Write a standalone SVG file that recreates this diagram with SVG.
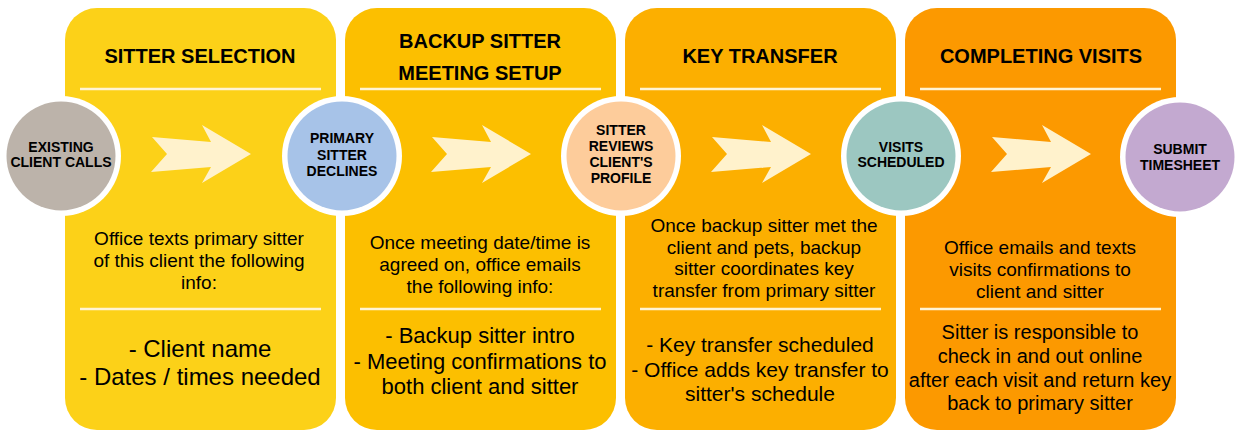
<svg xmlns="http://www.w3.org/2000/svg" width="1241" height="438" viewBox="0 0 1241 438">
<defs>
<style>
.title{font-family:"Liberation Sans",Arial,sans-serif;font-weight:bold;font-size:20px;fill:#000;text-anchor:middle}
.body{font-family:"Liberation Sans",Arial,sans-serif;font-size:19px;fill:#000;text-anchor:middle}
.lbl{font-family:"Liberation Sans",Arial,sans-serif;font-weight:bold;font-size:14px;fill:#000;text-anchor:middle}
.div{stroke:#FFF4D4;stroke-width:2.5}
.ring{fill:#fff}
.arrow{fill:#FFF2CC}
</style>
<path id="arr" d="M152,137 L211,142 L202,125 L251,154 L202,183 L211,167 L151,172 L167,154 Z"/>
</defs>
<rect width="1241" height="438" fill="#fff"/>

<g id="panel-sitter-selection">
<rect x="65" y="8" width="271" height="422" rx="32" fill="#FCD118"/>
<text class="title" x="200" y="63">SITTER SELECTION</text>
<line class="div" x1="80" y1="89" x2="321" y2="89"/>
<text class="body" x="199" y="245">Office texts primary sitter</text>
<text class="body" x="199" y="267">of this client the following</text>
<text class="body" x="199" y="289">info:</text>
<line class="div" x1="80" y1="309" x2="321" y2="309"/>
<text class="body" x="200" y="357" style="font-size:24px">- Client name</text>
<text class="body" x="200" y="385" style="font-size:24px">- Dates / times needed</text>
</g>

<g id="panel-backup-meeting">
<rect x="345" y="8" width="271" height="422" rx="32" fill="#FCBF00"/>
<text class="title" x="480" y="48">BACKUP SITTER</text>
<text class="title" x="480" y="80">MEETING SETUP</text>
<line class="div" x1="360" y1="89" x2="601" y2="89"/>
<text class="body" x="480" y="249">Once meeting date/time is</text>
<text class="body" x="480" y="271">agreed on, office emails</text>
<text class="body" x="480" y="293">the following info:</text>
<line class="div" x1="360" y1="309" x2="601" y2="309"/>
<text class="body" x="480" y="343" style="font-size:22px">- Backup sitter intro</text>
<text class="body" x="480" y="369" style="font-size:22px">- Meeting confirmations to</text>
<text class="body" x="480" y="394" style="font-size:22px">both client and sitter</text>
</g>

<g id="panel-key-transfer">
<rect x="625" y="8" width="271" height="422" rx="32" fill="#FCAF00"/>
<text class="title" x="760" y="63">KEY TRANSFER</text>
<line class="div" x1="640" y1="89" x2="881" y2="89"/>
<text class="body" x="764" y="232">Once backup sitter met the</text>
<text class="body" x="764" y="254">client and pets, backup</text>
<text class="body" x="764" y="275">sitter coordinates key</text>
<text class="body" x="764" y="297">transfer from primary sitter</text>
<line class="div" x1="640" y1="309" x2="881" y2="309"/>
<text class="body" x="760" y="352" style="font-size:21px">- Key transfer scheduled</text>
<text class="body" x="760" y="377" style="font-size:21px">- Office adds key transfer to</text>
<text class="body" x="760" y="401" style="font-size:21px">sitter's schedule</text>
</g>

<g id="panel-completing-visits">
<rect x="905" y="8" width="271" height="422" rx="32" fill="#FC9900"/>
<text class="title" x="1041" y="63">COMPLETING VISITS</text>
<line class="div" x1="920" y1="89" x2="1161" y2="89"/>
<text class="body" x="1040" y="254">Office emails and texts</text>
<text class="body" x="1040" y="276">visits confirmations to</text>
<text class="body" x="1040" y="298">client and sitter</text>
<line class="div" x1="920" y1="309" x2="1161" y2="309"/>
<text class="body" x="1040" y="339" style="font-size:20px">Sitter is responsible to</text>
<text class="body" x="1040" y="363" style="font-size:20px">check in and out online</text>
<text class="body" x="1040" y="387" style="font-size:20px">after each visit and return key</text>
<text class="body" x="1040" y="410" style="font-size:20px">back to primary sitter</text>
</g>

<g id="connectors">
<use href="#arr" class="arrow"/>
<use href="#arr" class="arrow" transform="translate(280,0)"/>
<use href="#arr" class="arrow" transform="translate(560,0)"/>
<use href="#arr" class="arrow" transform="translate(840,0)"/>
</g>

<g id="node-existing-client-calls">
<circle class="ring" cx="61" cy="156" r="60"/>
<circle cx="61" cy="156" r="54.5" fill="#BCB3AA"/>
<text class="lbl" x="61" y="152">EXISTING</text>
<text class="lbl" x="61" y="167">CLIENT CALLS</text>
</g>

<g id="node-primary-sitter-declines">
<circle class="ring" cx="342" cy="156" r="60"/>
<circle cx="342" cy="156" r="54.5" fill="#A7C3E8"/>
<text class="lbl" x="342" y="143">PRIMARY</text>
<text class="lbl" x="342" y="159.5">SITTER</text>
<text class="lbl" x="342" y="176">DECLINES</text>
</g>

<g id="node-sitter-reviews-profile">
<circle class="ring" cx="621" cy="156" r="60"/>
<circle cx="621" cy="156" r="54.5" fill="#FDCC9B"/>
<text class="lbl" x="621" y="135">SITTER</text>
<text class="lbl" x="621" y="151">REVIEWS</text>
<text class="lbl" x="621" y="167">CLIENT'S</text>
<text class="lbl" x="621" y="183">PROFILE</text>
</g>

<g id="node-visits-scheduled">
<circle class="ring" cx="901" cy="156" r="60"/>
<circle cx="901" cy="156" r="54.5" fill="#9CC7C1"/>
<text class="lbl" x="901" y="152">VISITS</text>
<text class="lbl" x="901" y="167">SCHEDULED</text>
</g>

<g id="node-submit-timesheet">
<circle class="ring" cx="1180" cy="157" r="60"/>
<circle cx="1180" cy="157" r="54.5" fill="#C3A9D0"/>
<text class="lbl" x="1180" y="154">SUBMIT</text>
<text class="lbl" x="1180" y="170">TIMESHEET</text>
</g>
</svg>
